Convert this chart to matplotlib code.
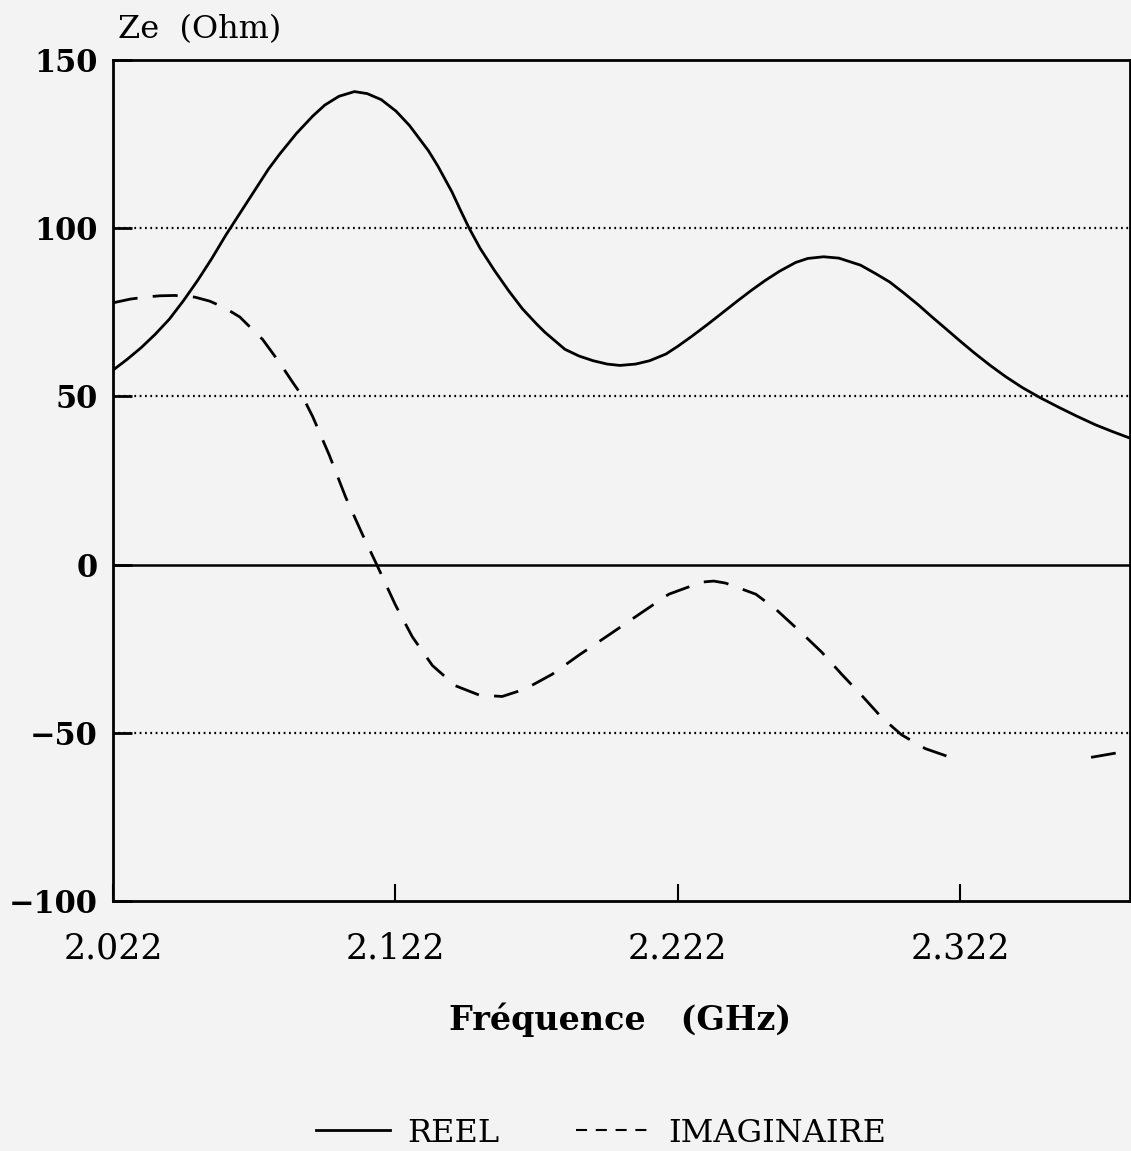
import matplotlib.pyplot as plt
import numpy as np
from matplotlib.lines import Line2D

# frequencies (GHz) and impedance values (Ohm)
freq_reel = [2.0220, 2.0270, 2.0320, 2.0370, 2.0420, 2.0470, 2.0520, 2.0570,
             2.0620, 2.0670, 2.0720, 2.0770, 2.0810, 2.0870, 2.0927, 2.0970,
             2.1020, 2.1075, 2.1120, 2.1170, 2.1222, 2.1270, 2.1337, 2.1370,
             2.1420, 2.1450, 2.1481, 2.1520, 2.1570, 2.1620, 2.1670, 2.1720,
             2.1750, 2.1820, 2.1870, 2.1920, 2.1970, 2.2015, 2.2070, 2.2120,
             2.2178, 2.2220, 2.2270, 2.2330, 2.2380, 2.2430, 2.2480, 2.2530,
             2.2580, 2.2637, 2.2680, 2.2736, 2.2790, 2.2867, 2.2920, 2.2970,
             2.3019, 2.3070, 2.3120, 2.3173, 2.3220, 2.3270, 2.3326, 2.3380,
             2.3440, 2.3503, 2.3570, 2.3633, 2.3700, 2.3760, 2.3814]
reel = [57.8, 61.0, 64.5, 68.5, 73.0, 78.5, 84.5, 91.0,
        98.0, 104.5, 111.0, 117.5, 122.0, 128.2, 133.3, 136.6,
        139.2, 140.6, 140.0, 138.2, 134.8, 130.5, 123.0, 118.5,
        110.8, 105.4, 100.0, 94.0, 87.5, 81.5, 76.0, 71.5,
        69.0, 64.0, 62.0, 60.6, 59.6, 59.2, 59.6, 60.6,
        62.6, 64.9, 67.9, 71.7, 75.0, 78.3, 81.5, 84.5,
        87.2, 89.8, 91.0, 91.5, 91.1, 89.0, 86.5, 84.0,
        80.8, 77.3, 73.6, 69.8, 66.4, 62.9, 59.2, 55.9,
        52.6, 49.6, 46.7, 44.1, 41.5, 39.5, 37.8]

freq_imag = [2.0220, 2.0280, 2.0333, 2.0386, 2.0439, 2.0510, 2.0563, 2.0616,
             2.0669, 2.0750, 2.0810, 2.0856, 2.0891, 2.0927, 2.0986, 2.1044,
             2.1103, 2.1156, 2.1220, 2.1280, 2.1351, 2.1432, 2.1517, 2.1598,
             2.1679, 2.1775, 2.1870, 2.1976, 2.2093, 2.2188, 2.2305, 2.2347,
             2.2389, 2.2496, 2.2566, 2.2658, 2.2729, 2.2800, 2.2870, 2.2941,
             2.3012, 2.3096, 2.3185, 2.3400, 2.3683, 2.3814]
imag = [77.8, 78.9, 79.5, 79.9, 80.0, 79.5, 78.3, 76.3,
        73.6, 66.9, 60.0, 54.2, 50.0, 44.0, 32.5, 20.0,
        9.0, -0.4, -12.0, -21.5, -30.0, -36.0, -38.8, -39.2,
        -37.0, -32.6, -26.9, -20.9, -14.2, -8.8, -5.2, -4.9,
        -5.5, -8.8, -13.2, -20.3, -26.0, -32.6, -38.8, -45.4,
        -50.6, -54.7, -57.3, np.nan, -57.3, -55.4]

x_ticks = [2.022, 2.122, 2.222, 2.322]
x_labels = ["2.022", "2.122", "2.222", "2.322"]
y_ticks = [150, 100, 50, 0, -50, -100]
y_labels = ["150", "100", "50", "0", "\u221250", "\u2212100"]
grid_dotted = [100, 50, -50]

plt.rcParams['font.family'] = ['DejaVu Serif']
bg = "#f3f3f3"

fig = plt.figure(figsize=(11.31, 11.51), dpi=100, facecolor=bg)
ax = fig.add_axes([0.0999, 0.2172, 0.899, 0.7307])
ax.set_facecolor(bg)

for g in grid_dotted:
    ax.axhline(g, color="black", lw=1.6, linestyle=(0, (0.8, 1.6)), zorder=1)
ax.axhline(0, color="black", lw=1.8, zorder=1)

ax.plot(freq_reel, reel, color="black", lw=2.0, zorder=3)
ax.plot(freq_imag, imag, color="black", lw=2.0, linestyle=(0, (9.0, 5.5)), zorder=3)

ax.set_xlim(2.022, 2.382)
ax.set_ylim(-100, 150)
ax.set_xticks(x_ticks)
ax.set_xticklabels(x_labels, fontsize=25)
ax.set_yticks(y_ticks)
ax.set_yticklabels(y_labels, fontsize=22, fontweight="bold")
ax.tick_params(axis="x", direction="in", length=12, width=1.5, pad=22)
ax.tick_params(axis="y", direction="in", length=14, width=2.0, pad=11)

for s in ax.spines.values():
    s.set_linewidth(2.0)

fig.text(118 / 1131, 1 - 30 / 1151, "Ze  (Ohm)", fontsize=23, va="center", ha="left")
fig.text(620 / 1131, 1 - 1020 / 1151, "Fr\u00e9quence   (GHz)", fontsize=24,
         fontweight="bold", va="center", ha="center")

handles = [Line2D([], [], color="black", lw=2.0),
           Line2D([], [], color="black", lw=1.5, linestyle=(0, (5.3, 4.2)))]
fig.legend(handles, ["REEL", "IMAGINAIRE"], loc="center", ncol=2,
           bbox_to_anchor=(601 / 1131, 1 - 1133 / 1151), frameon=False,
           fontsize=23, handlelength=2.3, columnspacing=2.4, handletextpad=0.56)

fig.savefig("out.png", dpi=100, facecolor=bg)
